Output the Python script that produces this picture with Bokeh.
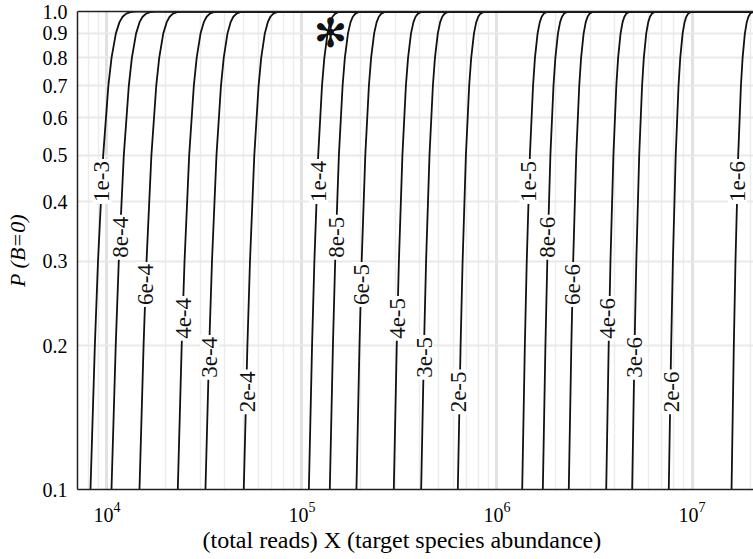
from math import pi
from bokeh.plotting import figure
from bokeh.models import (Range1d, FixedTicker, LogTickFormatter, PrintfTickFormatter,
                          LogAxis, Title, ColumnDataSource)
from bokeh.core.properties import value
from bokeh.embed import file_html
from bokeh.resources import INLINE

# ---------------- data ----------------
# probability levels at which each curve was read
p_levels = [0.1, 0.2, 0.3, 0.5, 0.7, 0.8, 0.9, 0.95, 0.975, 0.99, 0.997, 0.9995]
# log10(total reads X) of each curve at the levels above
log10_x_1e3 = [3.9154, 3.9377, 3.9539, 3.9805, 4.0071, 4.0233, 4.0456, 4.0641, 4.0801, 4.0987, 4.1201, 4.1477]
log10_x_8e4 = [4.0231, 4.0448, 4.0604, 4.0862, 4.1120, 4.1276, 4.1493, 4.1671, 4.1826, 4.2007, 4.2214, 4.2481]
log10_x_6e4 = [4.1666, 4.1876, 4.2027, 4.2277, 4.2527, 4.2678, 4.2888, 4.3062, 4.3212, 4.3387, 4.3588, 4.3847]
log10_x_4e4 = [4.3631, 4.3831, 4.3976, 4.4215, 4.4454, 4.4599, 4.4799, 4.4965, 4.5109, 4.5276, 4.5468, 4.5715]
log10_x_3e4 = [4.5050, 4.5244, 4.5384, 4.5615, 4.5846, 4.5986, 4.6180, 4.6340, 4.6479, 4.6641, 4.6827, 4.7066]
log10_x_2e4 = [4.7014, 4.7200, 4.7333, 4.7554, 4.7775, 4.7908, 4.8094, 4.8247, 4.8379, 4.8533, 4.8711, 4.8939]
log10_x_1e4 = [5.0352, 5.0516, 5.0635, 5.0831, 5.1027, 5.1146, 5.1310, 5.1446, 5.1564, 5.1701, 5.1859, 5.2062]
log10_x_8e5 = [5.1426, 5.1586, 5.1701, 5.1892, 5.2083, 5.2198, 5.2358, 5.2491, 5.2605, 5.2739, 5.2892, 5.3090]
log10_x_6e5 = [5.2792, 5.2948, 5.3060, 5.3246, 5.3432, 5.3544, 5.3700, 5.3828, 5.3940, 5.4070, 5.4219, 5.4411]
log10_x_4e5 = [5.4708, 5.4859, 5.4969, 5.5149, 5.5329, 5.5439, 5.5590, 5.5715, 5.5823, 5.5949, 5.6094, 5.6281]
log10_x_3e5 = [5.6111, 5.6258, 5.6363, 5.6538, 5.6713, 5.6818, 5.6965, 5.7086, 5.7191, 5.7313, 5.7453, 5.7634]
log10_x_2e5 = [5.7991, 5.8133, 5.8236, 5.8405, 5.8574, 5.8677, 5.8819, 5.8936, 5.9038, 5.9156, 5.9293, 5.9468]
log10_x_1e5 = [6.1292, 6.1428, 6.1525, 6.1687, 6.1849, 6.1946, 6.2082, 6.2194, 6.2291, 6.2404, 6.2533, 6.2700]
log10_x_8e6 = [6.2350, 6.2483, 6.2579, 6.2738, 6.2897, 6.2993, 6.3126, 6.3236, 6.3332, 6.3443, 6.3571, 6.3735]
log10_x_6e6 = [6.3681, 6.3812, 6.3906, 6.4062, 6.4218, 6.4312, 6.4443, 6.4551, 6.4644, 6.4753, 6.4878, 6.5039]
log10_x_4e6 = [6.5601, 6.5727, 6.5818, 6.5969, 6.6120, 6.6211, 6.6337, 6.6441, 6.6532, 6.6637, 6.6758, 6.6913]
log10_x_3e6 = [6.6931, 6.7055, 6.7144, 6.7292, 6.7440, 6.7529, 6.7653, 6.7756, 6.7845, 6.7948, 6.8067, 6.8220]
log10_x_2e6 = [6.8809, 6.8931, 6.9019, 6.9164, 6.9309, 6.9397, 6.9519, 6.9620, 6.9707, 6.9808, 6.9925, 7.0075]
log10_x_1e6 = [7.2027, 7.2144, 7.2229, 7.2369, 7.2509, 7.2594, 7.2711, 7.2808, 7.2892, 7.2990, 7.3103, 7.3248]
# after saturating, every curve stays at P = 1.0 up to this many reads
saturated_reads = 2.5e7
saturated_p = 1.0

curve_labels = ["1e-3", "8e-4", "6e-4", "4e-4", "3e-4", "2e-4",
                "1e-4", "8e-5", "6e-5", "4e-5", "3e-5", "2e-5",
                "1e-5", "8e-6", "6e-6", "4e-6", "3e-6", "2e-6", "1e-6"]
# where each curve label sits (log10 reads, probability)
label_log10_x = [3.9744, 4.0692, 4.1974, 4.3923, 4.5256, 4.7205,
                 5.0846, 5.1769, 5.3051, 5.4897, 5.6282, 5.8026,
                 6.1641, 6.2610, 6.3877, 6.5692, 6.7051, 6.8923, 7.2333]
label_p = [0.441, 0.337, 0.2685, 0.228, 0.189, 0.16,
           0.441, 0.337, 0.2685, 0.228, 0.189, 0.16,
           0.441, 0.337, 0.2685, 0.228, 0.189, 0.16, 0.441]

# marked point (asterisk)
star_reads = [1.40e5]
star_p = [0.9]

y_ticks = [0.1, 0.2, 0.3, 0.4, 0.5, 0.6, 0.7, 0.8, 0.9, 1.0]
x_ticks = [1e4, 1e5, 1e6, 1e7]
x_minor_ticks = [m * d for d in [1e3, 1e4, 1e5, 1e6, 1e7] for m in range(2, 10)]

curves = [log10_x_1e3, log10_x_8e4, log10_x_6e4, log10_x_4e4, log10_x_3e4, log10_x_2e4,
          log10_x_1e4, log10_x_8e5, log10_x_6e5, log10_x_4e5, log10_x_3e5, log10_x_2e5,
          log10_x_1e5, log10_x_8e6, log10_x_6e6, log10_x_4e6, log10_x_3e6, log10_x_2e6,
          log10_x_1e6]

# ---------------- figure ----------------
SERIF = "Liberation Serif"

p = figure(width=753, height=559, x_axis_type="log", y_axis_type="log",
           x_range=Range1d(7060, 2.067e7), y_range=Range1d(0.1, 1.0),
           output_backend="svg", toolbar_location=None,
           min_border_left=77, min_border_right=0, min_border_top=11,
           min_border_bottom=70)
p.outline_line_color = None
p.background_fill_color = "white"
p.border_fill_color = "white"

# grid
p.xgrid.ticker = FixedTicker(ticks=x_ticks, minor_ticks=x_minor_ticks)
p.xgrid.grid_line_color = "#e2e2e2"
p.xgrid.grid_line_width = 3
p.xgrid.minor_grid_line_color = "#ececec"
p.xgrid.minor_grid_line_width = 1.5
p.ygrid.ticker = FixedTicker(ticks=y_ticks)
p.ygrid.grid_line_color = "#e9e9e9"
p.ygrid.grid_line_width = 2

# axes
xa = p.xaxis[0]
xa.ticker = FixedTicker(ticks=x_ticks, minor_ticks=[])
xa.formatter = LogTickFormatter()
xa.major_tick_line_color = None
xa.minor_tick_line_color = None
xa.major_tick_out = 0
xa.minor_tick_out = 0
xa.axis_line_width = 1.5
xa.axis_line_color = "#222222"
xa.major_label_text_font = SERIF
xa.major_label_text_font_size = "20px"
xa.major_label_text_color = "black"
xa.major_label_standoff = 12

ya = p.yaxis[0]
ya.ticker = FixedTicker(ticks=y_ticks, minor_ticks=[])
ya.formatter = PrintfTickFormatter(format="%.1f")
ya.major_tick_line_color = None
ya.minor_tick_line_color = None
ya.major_tick_out = 0
ya.minor_tick_out = 0
ya.axis_line_width = 1.5
ya.axis_line_color = "#222222"
ya.major_label_text_font = SERIF
ya.major_label_text_font_size = "20px"
ya.major_label_text_color = "black"
ya.major_label_standoff = 10
ya.axis_label = "P (B=0)"
ya.axis_label_text_font = SERIF
ya.axis_label_text_font_style = "italic"
ya.axis_label_text_font_size = "22px"
ya.axis_label_text_color = "black"
ya.axis_label_standoff = 10

top = LogAxis(ticker=FixedTicker(ticks=[]), major_tick_line_color=None,
              minor_tick_line_color=None, major_tick_out=0, minor_tick_out=0,
              major_label_text_font_size="0px",
              major_label_standoff=0, axis_line_width=1.5, axis_line_color="#222222")
p.add_layout(top, "above")

p.add_layout(Title(text="(total reads) X (target species abundance)", align="left",
                   offset=125, text_font=SERIF, text_font_size="24px",
                   text_font_style="normal", text_color="black", standoff=0), "below")

# curves
for lx in curves:
    xs = [10 ** v for v in lx] + [saturated_reads]
    ys = p_levels + [saturated_p]
    p.line(xs, ys, line_color="#111111", line_width=1.8)

# curve labels
lab = ColumnDataSource(dict(x=[10 ** v for v in label_log10_x], y=label_p, t=curve_labels))
p.text(x="x", y="y", text="t", source=lab, angle=pi / 2,
       text_align="center", text_baseline="middle",
       text_font=value("Liberation Sans Narrow"), text_font_size="23px",
       text_color="#111111", background_fill_color="white", padding=2)

# asterisk marker
p.text(x=star_reads, y=star_p, text=["\u273B"], text_align="center", text_baseline="middle",
       text_font=value("DejaVu Sans"), text_font_size="40px", text_color="#111111")

open("out.html", "w").write(file_html(p, INLINE))
